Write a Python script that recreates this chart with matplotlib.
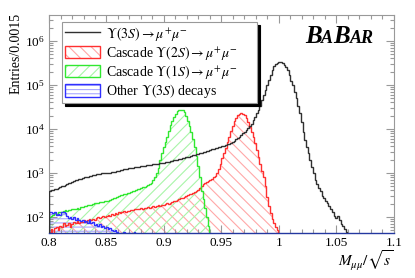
import matplotlib
matplotlib.use('Agg')
import matplotlib.pyplot as plt
import numpy as np
from matplotlib.patches import Patch
from matplotlib.lines import Line2D
from matplotlib.legend_handler import HandlerTuple
from matplotlib.offsetbox import TextArea, HPacker, AnchoredOffsetbox
from matplotlib.ticker import MultipleLocator, LogLocator, FuncFormatter, NullFormatter

plt.rcParams['font.family'] = ['Liberation Serif', 'DejaVu Serif']
plt.rcParams['mathtext.fontset'] = 'stix'
plt.rcParams['hatch.linewidth'] = 0.8

# ---- data: entries per bin (bin width 0.0015, starting at 0.8) ----
bin_width = 0.0015
x_start = 0.8

ups3s_mumu = [398, 407, 417, 440, 437, 457, 479, 501, 505, 537,
              562, 589, 603, 631, 660, 676, 692, 724, 741, 759,
              794, 813, 820, 851, 871, 891, 912, 950, 955, 966,
              977, 977, 1000, 1000, 1012, 1010, 1047, 1059, 1072, 1096,
              1122, 1148, 1175, 1202, 1250, 1259, 1288, 1306, 1324, 1343,
              1361, 1380, 1380, 1419, 1439, 1459, 1479, 1500, 1521, 1542,
              1563, 1585, 1607, 1629, 1652, 1675, 1698, 1738, 1774, 1811,
              1849, 1892, 1932, 1972, 2018, 2061, 2104, 2148, 2198, 2244,
              2291, 2355, 2427, 2495, 2564, 2642, 2716, 2793, 2871, 2958,
              3041, 3126, 3221, 3311, 3412, 3508, 3614, 3724, 3837, 3954,
              4074, 4188, 4315, 4446, 4581, 4721, 5012, 5370, 5754, 6166,
              6607, 7244, 7943, 8710, 9550, 10471, 11749, 13183, 15849, 19055,
              22909, 27542, 33113, 45709, 58884, 77625, 100000, 131826, 169824, 213796,
              263027, 295121, 323594, 331131, 331131, 316228, 288403, 257040, 213796, 165959,
              125893, 97724, 70795, 50119, 33884, 22909, 14125, 8318, 5623, 3802,
              2818, 1995, 1349, 1000, 708, 550, 447, 380, 295, 269,
              234, 204, 174, 151, 132, 105, 93, 105, 85, 69,
              63, 52, 46]

cascade_2s = [45, 52, 40, 56, 60, 50, 63, 58, 71, 63,
              66, 72, 60, 69, 76, 71, 79, 72, 76, 78,
              83, 76, 85, 89, 83, 91, 87, 93, 98, 93,
              100, 105, 98, 107, 112, 105, 115, 110, 120, 117,
              126, 120, 129, 135, 132, 138, 135, 141, 145, 151,
              148, 155, 151, 158, 155, 162, 158, 166, 162, 170,
              174, 166, 178, 182, 178, 186, 191, 195, 204, 200,
              209, 214, 224, 229, 240, 251, 263, 275, 288, 295,
              309, 324, 339, 355, 372, 398, 417, 447, 501, 550,
              589, 631, 661, 708, 741, 794, 871, 977, 1202, 1585,
              2138, 2818, 3631, 5012, 6607, 8913, 11749, 14791, 18197, 20893,
              22387, 22909, 22387, 20417, 17783, 14125, 11220, 8710, 6607, 4677,
              3311, 2291, 1585, 1122, 794, 501, 282, 178, 120, 89,
              72, 58, 50]

cascade_1s = [100, 105, 112, 120, 115, 126, 132, 126, 135, 141,
              138, 141, 145, 151, 148, 155, 158, 155, 166, 170,
              174, 178, 182, 186, 191, 195, 204, 204, 209, 214,
              219, 219, 224, 229, 234, 245, 257, 263, 275, 288,
              295, 309, 316, 331, 339, 347, 355, 372, 380, 398,
              417, 427, 437, 457, 468, 479, 501, 537, 562, 603,
              692, 794, 1000, 1318, 1995, 2818, 3802, 5012, 6457, 8913,
              12023, 15136, 19055, 22387, 25119, 26303, 26915, 26303, 24547, 19953,
              15136, 11749, 8318, 6026, 3802, 2399, 1413, 794, 398, 251,
              158, 100, 63]

other_3s = [126, 126, 120, 129, 112, 115, 110, 132, 126, 120,
            105, 95, 100, 91, 98, 87, 93, 83, 79, 85,
            76, 79, 72, 83, 71, 76, 66, 69, 63, 68,
            60, 63, 56, 59, 52, 55, 50, 48, 51, 46,
            40, 35, 30, 45, 30, 25, 44, 20, 15, 46,
            20, 15, 12, 10]

x_tick_step = 0.05
x_minor_step = 0.01

# ---- figure ----
fig = plt.figure(figsize=(4.15, 2.78), dpi=100)
ax = fig.add_axes([49 / 415, 1 - 233 / 278, 345 / 415, 218 / 278])
ax.set_yscale('log')


def edges_for(vals):
    return x_start + bin_width * np.arange(len(vals) + 1)


series = [
    (cascade_2s, '\\\\\\', '#ffa8a8', '#ff3030'),
    (cascade_1s, '///', '#a8f5a8', '#30e830'),
    (other_3s, '----', '#a8a8ff', '#3030ff'),
]
for vals, hatch, light, dark in series:
    ax.stairs(vals, edges_for(vals), baseline=1, fill=True, facecolor='none',
              edgecolor=light, hatch=hatch, linewidth=0, zorder=1)
for vals, hatch, light, dark in series:
    ax.stairs(vals, edges_for(vals), baseline=1, fill=False, color=dark,
              linewidth=1.0, zorder=2)
ax.stairs(ups3s_mumu, edges_for(ups3s_mumu), baseline=1, fill=False,
          color='#303030', linewidth=1.0, zorder=3)

ax.set_xlim(0.8, 1.1)
ax.set_ylim(43, 3.9e6)

ax.xaxis.set_major_locator(MultipleLocator(x_tick_step))
ax.xaxis.set_minor_locator(MultipleLocator(x_minor_step))
ax.xaxis.set_major_formatter(FuncFormatter(lambda v, p: f'{v:g}'))
ax.yaxis.set_major_locator(LogLocator(base=10, numticks=15))
ax.yaxis.set_minor_locator(LogLocator(base=10, subs=np.arange(2, 10), numticks=15))
ax.yaxis.set_minor_formatter(NullFormatter())

ax.tick_params(which='both', direction='in', top=True, right=True,
               colors='#999999', labelcolor='black', labelsize=9.5, width=0.8)
ax.tick_params(which='major', length=6, pad=3)
ax.tick_params(which='minor', length=3)
for side in ['left', 'right', 'top']:
    ax.spines[side].set_color('#999999')
    ax.spines[side].set_linewidth(0.8)
ax.spines['bottom'].set_color('#2438a0')
ax.spines['bottom'].set_linewidth(1.0)

# ---- legend ----
handles = [
    Line2D([], [], color='#303030', lw=1),
    (Patch(fc='none', ec='#ffa8a8', hatch='\\\\\\', lw=0), Patch(fc='none', ec='#ff3030', lw=1)),
    (Patch(fc='none', ec='#a8f5a8', hatch='///', lw=0), Patch(fc='none', ec='#30e830', lw=1)),
    (Patch(fc='none', ec='#a8a8ff', hatch='----', lw=0), Patch(fc='none', ec='#3030ff', lw=1)),
]
labels = [
    r'$\mathit{\Upsilon(3S)} \rightarrow \mu^{+}\mu^{-}$',
    r'Cascade $\mathit{\Upsilon(2S)} \rightarrow \mu^{+}\mu^{-}$',
    r'Cascade $\mathit{\Upsilon(1S)} \rightarrow \mu^{+}\mu^{-}$',
    r'Other $\mathit{\Upsilon(3S)}$ decays',
]
x0 = (62 - 49) / 345
x1 = (257 - 49) / 345
y1 = (233 - 22) / 218
y0 = (233 - 100) / 218
leg = ax.legend(handles, labels, handler_map={tuple: HandlerTuple(ndivide=1, pad=0)},
                loc='upper left', bbox_to_anchor=(x0, y0, x1 - x0, y1 - y0), mode='expand',
                borderaxespad=0, fancybox=False, edgecolor='#999999', framealpha=1,
                shadow={'color': 'black', 'alpha': 1}, fontsize=10,
                handlelength=2.5, handleheight=1.0, handletextpad=0.5,
                labelspacing=0.08, borderpad=0.2)
leg.get_frame().set_linewidth(0.8)
leg.set_zorder(5)

# ---- labels ----
fig.text(16 / 415, 1 - 13 / 278, 'Entries/0.0015', rotation=90, ha='center', va='top',
         fontsize=10)
fig.text(393 / 415, 1 - 266 / 278, r'$M_{\mu\mu}/\sqrt{s}$', ha='right', va='baseline',
         fontsize=11)

# ---- BaBar logo ----
def ta(s, fs):
    return TextArea(s, textprops=dict(fontsize=fs, fontweight='bold', fontstyle='italic',
                                      family='Liberation Serif', color='black'))


pack = HPacker(children=[ta('B', 18), ta('A', 13), ta('B', 18), ta('AR', 13)],
               align='baseline', pad=0, sep=0)
ab = AnchoredOffsetbox(loc='upper right', child=pack, pad=0, borderpad=0, frameon=False,
                       bbox_to_anchor=(374 / 415, 1 - 25 / 278),
                       bbox_transform=fig.transFigure)
ax.add_artist(ab)

fig.savefig('out.png', dpi=100)
